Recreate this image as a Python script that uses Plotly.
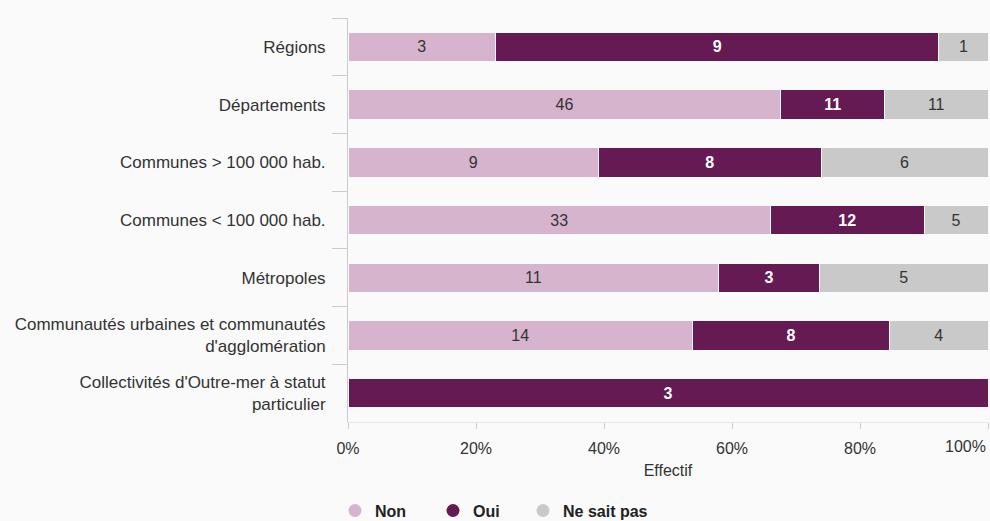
import plotly.graph_objects as go

# Survey responses by type of local authority
categories = [
    "Régions",
    "Départements",
    "Communes > 100 000 hab.",
    "Communes < 100 000 hab.",
    "Métropoles",
    "Communautés urbaines et communautés<br>d'agglomération",
    "Collectivités d'Outre-mer à statut<br>particulier",
]
non = [3, 46, 9, 33, 11, 14, 0]
oui = [9, 11, 8, 12, 3, 8, 3]
ne_sait_pas = [1, 11, 6, 5, 5, 4, 0]

series_names = ["Non", "Oui", "Ne sait pas"]
series_values = [non, oui, ne_sait_pas]
series_colors = ["#d6b4cd", "#661a53", "#c9c9c9"]
text_colors = ["#333333", "#ffffff", "#333333"]

x_ticks = [0, 20, 40, 60, 80, 100]
x_tick_labels = ["0%", "20%", "40%", "60%", "80%", ""]

FONT = "Liberation Sans, Arial, sans-serif"
BG = "#fafafa"
W, H = 990, 521

# one legend box per series, placed side by side under the axis title
legend_ids = ["legend", "legend2", "legend3"]
legend_left_px = [335, 433, 523]

fig = go.Figure()
for name, vals, color, tcolor in zip(series_names, series_values, series_colors, text_colors):
    fig.add_trace(go.Bar(
        y=categories,
        x=vals,
        name=name,
        orientation="h",
        marker=dict(color=color, line=dict(color=BG, width=1)),
        text=[str(v) if v else "" for v in vals],
        texttemplate="%{text}",
        textposition="inside",
        insidetextanchor="middle",
        textangle=0,
        textfont=dict(family=FONT, size=16, color=tcolor,
                      weight="bold" if name == "Oui" else "normal"),
        showlegend=False,
    ))

# Round legend markers
for name, color, lid in zip(series_names, series_colors, legend_ids):
    fig.add_trace(go.Scatter(
        x=[None], y=[None], mode="markers", name=name,
        marker=dict(symbol="circle", size=13, color=color),
        showlegend=True, legend=lid,
    ))

legend_style = dict(
    orientation="h", xref="container", yref="container",
    xanchor="left", y=0.02, yanchor="middle",
    font=dict(family=FONT, size=16, color="#222222", weight="bold"),
    itemsizing="trace", bgcolor="rgba(0,0,0,0)",
)

fig.update_layout(
    width=W, height=H,
    margin=dict(l=348, r=2, t=18, b=99),
    paper_bgcolor=BG, plot_bgcolor=BG,
    barmode="stack", barnorm="percent", bargap=0.49,
    uniformtext=dict(minsize=16, mode="show"),
    font=dict(family=FONT, size=16, color="#333333"),
    xaxis=dict(
        range=[0, 100], tickvals=x_ticks, ticktext=x_tick_labels,
        ticks="outside", ticklen=6, tickcolor="#cccccc",
        showline=True, linecolor="#e6e6e6", showgrid=False, zeroline=False,
        tickfont=dict(size=16, color="#333333"), ticklabelstandoff=6,
        title=dict(text="Effectif", font=dict(size=16, color="#333333"), standoff=8),
        automargin=False, fixedrange=True,
    ),
    yaxis=dict(
        autorange="reversed", categoryorder="array", categoryarray=categories,
        tickson="boundaries", ticks="outside", ticklen=15, tickcolor="#cccccc",
        showline=True, linecolor="#cccccc", showgrid=False, zeroline=False,
        tickfont=dict(size=17, color="#333333"), ticklabelstandoff=18,
        automargin=False, fixedrange=True,
    ),
)
for lid, left in zip(legend_ids, legend_left_px):
    fig.update_layout({lid: dict(legend_style, x=left / W)})

# Last tick label kept inside the page, right-aligned on its tick
fig.add_annotation(
    x=100, y=0, xref="x", yref="paper", yanchor="top", xanchor="right",
    yshift=-14, text="100%", showarrow=False,
    font=dict(family=FONT, size=16, color="#333333"),
)

fig.write_html("out.html")
